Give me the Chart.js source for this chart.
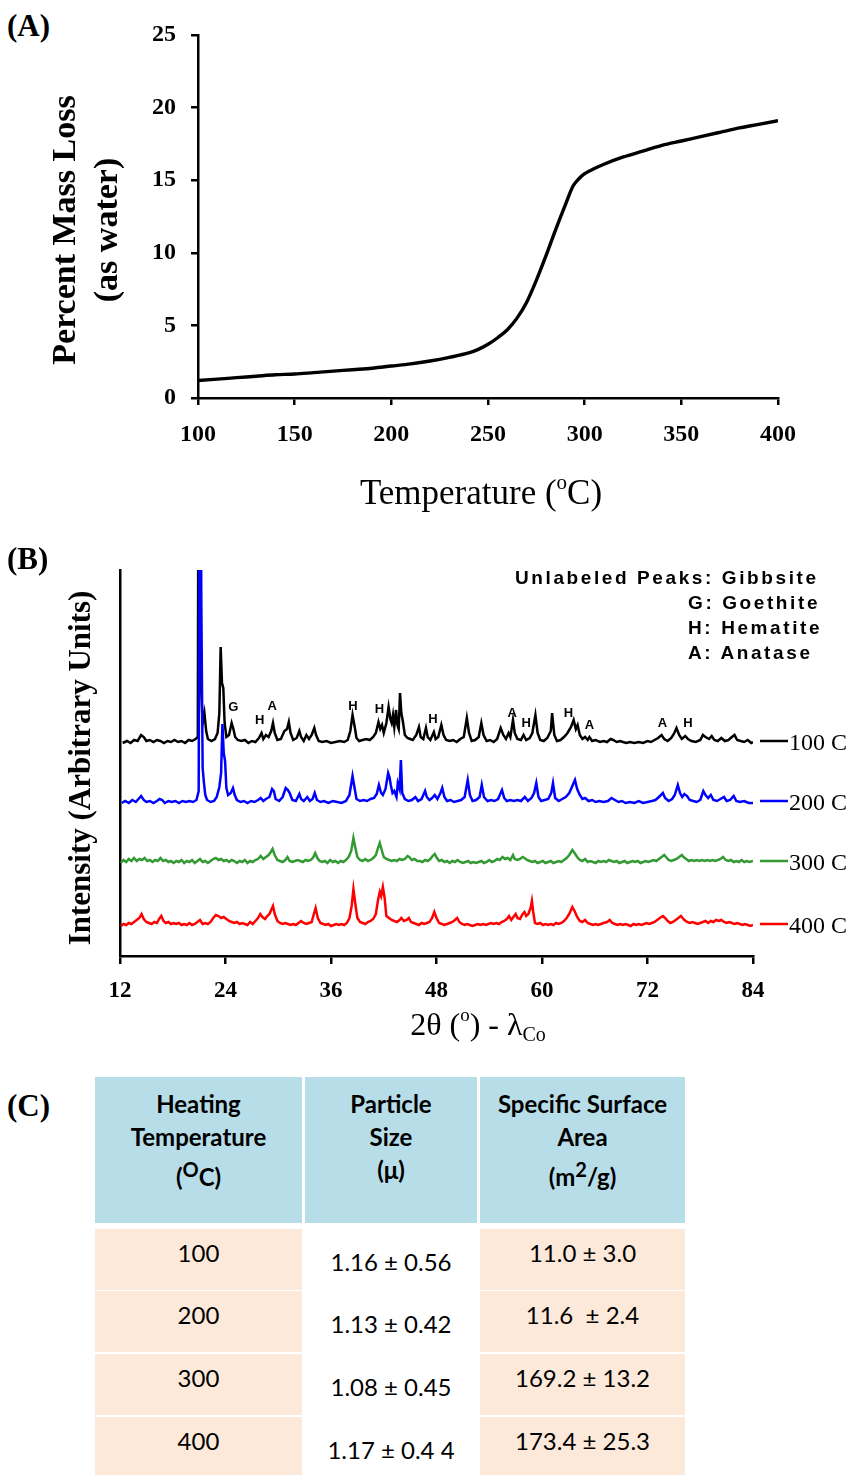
<!DOCTYPE html>
<html>
<head>
<meta charset="utf-8">
<script src="https://cdn.jsdelivr.net/npm/chart.js@4.4.0/dist/chart.umd.min.js"></script>
<style>
  body { margin: 0; background: #fff; }
  #page { position: relative; width: 851px; height: 1475px; overflow: hidden; background: #fff;
          font-family: "Liberation Serif", "Times New Roman", serif; }
  .panel { position: absolute; font-weight: bold; font-size: 31px; line-height: 31px; }
  #key { position: absolute; left: 515px; top: 565px; font-family: "Liberation Sans", Arial, sans-serif;
         font-weight: bold; font-size: 19px; line-height: 25px; letter-spacing: 2.6px; white-space: pre; }
  #key .sub { padding-left: 173px; }
  .cell { position: absolute; text-align: center; font-family: Lato, "Open Sans", sans-serif;
          color: #000; white-space: pre; box-sizing: border-box; }
  .head { background: #b7dde8; font-weight: bold; font-size: 24px; line-height: 33px; padding-top: 10px; }
  .body { font-size: 24px; line-height: 30px; }
  .peach { background: #fde9d9; }
</style>
</head>
<body>
<div id="page">
  <div class="panel" style="left:7px;top:10px">(A)</div>
  <canvas id="tga" width="851" height="530" style="position:absolute;left:0;top:0"></canvas>
  <canvas id="xrd" width="851" height="510" style="position:absolute;left:0;top:540px"></canvas>
  <div class="panel" style="left:7px;top:543px">(B)</div>
  <div id="key">Unlabeled Peaks: Gibbsite
<span class="sub">G: Goethite</span>
<span class="sub">H: Hematite</span>
<span class="sub">A: Anatase</span></div>
  <div class="panel" style="left:7px;top:1090px">(C)</div>
  <div id="tbl"></div>
</div>
<script>
const SERIF = '"Liberation Serif", "Times New Roman", serif';

// (A) thermogravimetric curve
const tgaTemp = [100, 110, 120, 130, 140, 150, 160, 170, 180, 190, 200, 210, 220, 230, 240, 245, 250, 255,
  260, 265, 270, 275, 280, 285, 290, 294, 297, 300, 305, 310, 320, 330, 340, 350, 360, 370, 380, 390, 400];
const tgaLoss = [1.2, 1.3, 1.4, 1.5, 1.6, 1.65, 1.75, 1.85, 1.95, 2.05, 2.2, 2.35, 2.55, 2.8, 3.1, 3.35, 3.7, 4.15,
  4.7, 5.5, 6.6, 8.1, 9.8, 11.6, 13.3, 14.6, 15.1, 15.45, 15.8, 16.1, 16.6, 17.0, 17.4, 17.7, 18.0, 18.3, 18.6, 18.85, 19.1];

// (B) XRD patterns: [2theta, height above trace baseline]
const xrdNames = ["100 C", "200 C", "300 C", "400 C"];
const xrdColors = ["#000000", "#0000ff", "#339933", "#ff0000"];
const xrdBaselines = [213, 153, 93, 30];

const xrd100 = [[12.3,0],[12.8,2],[13.2,0],[13.6,3],[14.0,2],[14.4,8],[14.7,6],[15.0,2],[15.4,3],[15.8,1],[16.2,3],[16.6,2],
  [17.0,0],[17.4,2],[17.8,1],[18.2,3],[18.6,1],[19.0,2],[19.4,0],[19.8,3],[20.2,2],[20.6,4],[20.85,6],[20.95,420],[21.2,60],
  [21.4,20],[21.6,30],[21.8,12],[22.0,4],[22.4,2],[22.8,4],[23.1,10],[23.3,30],[23.45,96],[23.6,60],[23.75,55],[23.9,20],
  [24.1,6],[24.4,8],[24.7,20],[24.9,14],[25.1,6],[25.4,3],[25.8,2],[26.2,3],[26.6,0],[27.0,2],[27.4,1],[27.8,5],[28.1,10],
  [28.3,4],[28.6,8],[28.9,6],[29.2,12],[29.4,20],[29.6,10],[29.9,3],[30.3,4],[30.7,12],[31.0,14],[31.2,21],[31.4,10],
  [31.7,3],[32.1,5],[32.4,12],[32.6,6],[32.9,2],[33.2,8],[33.5,4],[33.8,8],[34.1,15],[34.3,8],[34.6,2],[35.0,1],[35.5,2],
  [36.0,0],[36.5,1],[37.0,2],[37.5,1],[37.9,3],[38.2,12],[38.45,28],[38.7,16],[38.9,5],[39.2,2],[39.6,3],[40.0,4],[40.4,3],
  [40.8,6],[41.1,10],[41.4,21],[41.6,14],[41.8,18],[42.0,10],[42.3,20],[42.55,36],[42.75,24],[42.9,20],[43.05,28],[43.2,16],
  [43.4,33],[43.55,18],[43.7,14],[43.85,50],[44.0,30],[44.15,23],[44.4,8],[44.7,5],[45.0,4],[45.3,3],[45.7,8],[46.0,16],
  [46.2,6],[46.5,4],[46.8,15],[47.0,6],[47.3,3],[47.7,11],[47.9,4],[48.2,6],[48.55,18],[48.8,8],[49.1,3],[49.5,2],[49.9,3],
  [50.3,1],[50.7,4],[51.1,6],[51.45,25],[51.7,10],[52.0,2],[52.4,3],[52.8,6],[53.1,20],[53.35,8],[53.7,2],[54.1,3],[54.5,1],
  [54.9,4],[55.3,15],[55.6,8],[55.9,4],[56.2,10],[56.4,6],[56.7,23],[56.9,10],[57.2,4],[57.6,3],[57.9,8],[58.2,3],[58.6,5],
  [58.9,10],[59.25,28],[59.5,10],[59.8,3],[60.2,2],[60.6,5],[61.0,12],[61.15,30],[61.4,8],[61.7,2],[62.1,3],[62.5,6],
  [62.9,10],[63.3,16],[63.6,23],[63.85,14],[64.05,18],[64.3,8],[64.6,4],[64.9,6],[65.2,3],[65.4,6],[65.7,2],[66.1,3],
  [66.6,1],[67.0,2],[67.4,1],[67.8,4],[68.1,3],[68.5,1],[68.9,2],[69.2,1],[69.6,0],[70.0,1],[70.5,0],[71.0,1],[71.5,0],
  [72.0,2],[72.4,1],[72.8,3],[73.2,5],[73.6,8],[73.9,4],[74.3,2],[74.7,5],[75.0,9],[75.3,15],[75.6,8],[75.9,4],[76.3,7],
  [76.6,4],[77.0,2],[77.5,1],[78.0,3],[78.3,8],[78.6,6],[79.0,4],[79.3,7],[79.6,3],[80.0,2],[80.4,5],[80.8,2],[81.2,3],
  [81.6,6],[81.9,8],[82.2,3],[82.6,2],[83.0,1],[83.4,3],[83.8,0],[84.0,1]];

const xrd200 = [[12.2,0],[12.6,2],[13.0,0],[13.4,3],[13.8,1],[14.1,4],[14.4,7],[14.7,3],[15.0,1],[15.4,2],[15.8,0],[16.2,2],
  [16.5,4],[16.8,3],[17.1,0],[17.5,2],[17.9,1],[18.3,2],[18.7,0],[19.1,2],[19.5,1],[19.9,2],[20.3,1],[20.7,3],[20.95,12],
  [21.1,500],[21.25,200],[21.4,35],[21.55,20],[21.7,8],[21.9,3],[22.3,1],[22.7,2],[23.0,6],[23.3,16],[23.5,30],[23.65,79],
  [23.8,50],[23.95,42],[24.1,15],[24.3,8],[24.6,10],[24.85,15],[25.05,8],[25.3,3],[25.7,1],[26.1,2],[26.5,0],[26.9,2],
  [27.3,1],[27.7,3],[28.0,5],[28.3,2],[28.6,4],[29.0,6],[29.3,14],[29.5,12],[29.7,4],[30.1,2],[30.5,6],[30.85,15],[31.1,13],
  [31.3,10],[31.6,3],[32.0,2],[32.4,9],[32.6,4],[32.9,2],[33.3,6],[33.6,2],[33.9,4],[34.15,10],[34.4,3],[34.8,1],[35.2,2],
  [35.7,0],[36.2,2],[36.7,1],[37.2,0],[37.7,2],[38.1,8],[38.45,27],[38.7,14],[38.9,4],[39.3,2],[39.7,3],[40.1,2],[40.5,4],
  [40.9,5],[41.2,9],[41.45,18],[41.7,10],[41.9,8],[42.2,14],[42.5,30],[42.65,26],[42.8,18],[43.0,10],[43.2,12],[43.45,6],
  [43.6,20],[43.8,14],[43.95,43],[44.1,10],[44.4,4],[44.8,2],[45.2,3],[45.6,6],[45.9,2],[46.3,4],[46.7,12],[46.9,6],[47.2,3],
  [47.5,5],[47.8,8],[48.1,4],[48.45,10],[48.65,15],[48.9,6],[49.2,2],[49.6,3],[50.0,1],[50.4,2],[50.8,3],[51.2,6],[51.55,23],
  [51.8,8],[52.1,2],[52.5,3],[52.9,6],[53.15,18],[53.4,6],[53.8,2],[54.2,3],[54.6,2],[55.0,4],[55.45,13],[55.7,5],[56.0,2],
  [56.4,3],[56.8,2],[57.2,3],[57.6,2],[58.05,6],[58.4,2],[58.8,5],[59.1,10],[59.35,20],[59.6,6],[59.9,2],[60.3,3],[60.7,4],
  [61.05,10],[61.25,20],[61.5,5],[61.9,2],[62.3,4],[62.7,6],[63.1,10],[63.5,18],[63.75,23],[64.0,14],[64.3,8],[64.6,4],
  [64.9,5],[65.3,2],[65.7,3],[66.1,1],[66.5,2],[67.0,1],[67.5,2],[67.9,5],[68.3,3],[68.7,1],[69.1,2],[69.5,0],[70.0,1],
  [70.5,0],[71.0,2],[71.5,0],[72.0,1],[72.5,2],[72.9,3],[73.3,6],[73.75,10],[74.0,5],[74.4,2],[74.8,4],[75.1,8],[75.45,18],
  [75.7,10],[75.95,6],[76.2,9],[76.5,7],[76.8,3],[77.2,2],[77.6,1],[78.0,3],[78.35,12],[78.6,8],[78.9,5],[79.2,8],[79.5,3],
  [79.9,2],[80.3,4],[80.7,6],[81.0,2],[81.4,3],[81.8,7],[82.1,2],[82.5,1],[83.0,2],[83.5,0],[84.0,0]];

const xrd300 = [[12.1,0],[12.4,3],[12.7,1],[13.0,4],[13.3,2],[13.6,5],[13.9,2],[14.2,4],[14.5,3],[14.8,5],[15.1,2],[15.4,3],
  [15.7,1],[16.0,3],[16.3,2],[16.6,5],[16.9,2],[17.2,3],[17.5,1],[17.8,2],[18.1,0],[18.4,2],[18.7,1],[19.0,3],[19.3,0],
  [19.6,2],[19.9,1],[20.2,3],[20.5,0],[20.8,2],[21.1,4],[21.4,1],[21.7,2],[22.0,0],[22.3,2],[22.6,4],[22.9,5],[23.2,3],
  [23.5,4],[23.8,2],[24.1,3],[24.4,1],[24.7,3],[25.0,2],[25.3,0],[25.6,2],[25.9,1],[26.2,3],[26.5,0],[26.8,2],[27.1,1],
  [27.4,3],[27.7,4],[28.0,7],[28.3,4],[28.6,6],[28.9,8],[29.15,11],[29.35,14],[29.6,8],[29.9,3],[30.2,2],[30.5,1],[30.8,3],
  [31.05,6],[31.3,2],[31.6,1],[31.9,2],[32.2,3],[32.5,2],[32.8,1],[33.1,3],[33.4,2],[33.7,3],[34.0,6],[34.2,10],[34.45,5],
  [34.7,2],[35.0,1],[35.3,2],[35.6,0],[35.9,3],[36.2,1],[36.5,2],[36.8,0],[37.1,2],[37.4,1],[37.7,3],[38.0,6],[38.3,12],
  [38.55,25],[38.8,14],[39.0,6],[39.3,3],[39.6,2],[39.9,4],[40.2,2],[40.5,3],[40.8,5],[41.1,8],[41.35,15],[41.55,20],
  [41.8,12],[42.0,6],[42.3,4],[42.6,3],[42.9,2],[43.2,3],[43.5,2],[43.8,4],[44.1,3],[44.4,4],[44.7,7],[44.9,6],[45.2,3],
  [45.5,4],[45.8,2],[46.1,2],[46.4,1],[46.7,3],[47.0,2],[47.3,4],[47.55,7],[47.8,9],[48.05,5],[48.3,2],[48.6,3],[48.9,1],
  [49.2,2],[49.5,0],[49.8,2],[50.1,1],[50.4,3],[50.7,1],[51.0,0],[51.3,1],[51.6,2],[51.9,0],[52.2,1],[52.5,0],[52.8,1],
  [53.1,2],[53.4,0],[53.7,1],[54.0,3],[54.3,1],[54.6,2],[54.9,4],[55.2,3],[55.5,6],[55.8,4],[56.1,5],[56.4,3],[56.7,8],
  [56.9,4],[57.2,3],[57.5,4],[57.8,6],[58.0,5],[58.3,3],[58.6,2],[58.9,1],[59.2,2],[59.5,0],[59.8,1],[60.1,2],[60.4,0],
  [60.7,1],[61.0,2],[61.3,0],[61.6,1],[61.9,2],[62.2,1],[62.5,3],[62.8,5],[63.1,8],[63.45,13],[63.7,10],[64.0,6],[64.3,3],
  [64.6,2],[64.9,4],[65.2,1],[65.5,2],[65.8,1],[66.1,0],[66.4,2],[66.7,1],[67.0,2],[67.3,1],[67.6,3],[67.9,2],[68.2,1],
  [68.5,2],[68.8,0],[69.1,1],[69.4,2],[69.7,0],[70.0,1],[70.3,2],[70.6,1],[70.9,2],[71.2,0],[71.5,1],[71.8,2],[72.1,1],
  [72.4,2],[72.7,3],[73.0,2],[73.3,4],[73.6,6],[73.9,8],[74.1,6],[74.4,3],[74.7,2],[75.0,3],[75.3,4],[75.6,6],[75.9,8],
  [76.1,6],[76.4,4],[76.7,2],[77.0,3],[77.3,2],[77.6,3],[77.9,2],[78.2,3],[78.5,2],[78.8,3],[79.1,2],[79.4,3],[79.7,2],
  [80.0,3],[80.3,4],[80.6,6],[80.9,3],[81.2,2],[81.5,3],[81.8,1],[82.1,2],[82.4,1],[82.7,3],[83.0,1],[83.3,2],[83.6,1],[84.0,2]];

const xrd400 = [[12.1,0],[12.4,2],[12.7,1],[13.0,3],[13.3,2],[13.6,4],[13.9,6],[14.2,8],[14.45,12],[14.7,7],[15.0,4],
  [15.3,3],[15.6,2],[15.9,4],[16.2,3],[16.45,7],[16.7,10],[16.95,5],[17.2,3],[17.5,4],[17.8,2],[18.1,3],[18.4,2],[18.7,3],
  [19.0,1],[19.3,2],[19.6,1],[19.9,3],[20.2,1],[20.5,2],[20.8,4],[21.1,6],[21.4,2],[21.7,3],[22.0,2],[22.3,4],[22.6,8],
  [22.9,11],[23.2,10],[23.5,8],[23.8,9],[24.1,7],[24.4,5],[24.7,4],[25.0,3],[25.3,4],[25.6,2],[25.9,3],[26.2,2],[26.5,1],
  [26.8,4],[27.1,2],[27.4,5],[27.7,8],[27.95,12],[28.2,9],[28.5,7],[28.75,10],[29.0,12],[29.25,17],[29.4,20],[29.6,12],
  [29.9,5],[30.2,3],[30.5,2],[30.8,3],[31.1,2],[31.4,1],[31.7,2],[32.0,1],[32.3,3],[32.6,5],[32.9,3],[33.2,2],[33.5,3],
  [33.8,4],[34.05,12],[34.25,18],[34.5,8],[34.8,3],[35.1,2],[35.4,1],[35.7,2],[36.0,0],[36.3,1],[36.6,2],[36.9,1],[37.2,2],
  [37.5,1],[37.8,3],[38.1,8],[38.35,20],[38.55,37],[38.8,20],[39.0,8],[39.3,4],[39.6,3],[39.9,2],[40.2,4],[40.5,5],[40.8,7],
  [41.1,12],[41.35,26],[41.55,34],[41.7,30],[41.9,39],[42.1,28],[42.3,10],[42.6,8],[42.9,6],[43.2,5],[43.5,4],[43.8,6],
  [44.0,8],[44.3,5],[44.6,6],[44.85,8],[45.1,4],[45.4,3],[45.7,2],[46.0,1],[46.3,3],[46.6,2],[46.9,3],[47.2,4],[47.5,8],
  [47.75,14],[48.0,8],[48.3,3],[48.6,2],[48.9,1],[49.2,2],[49.5,3],[49.8,4],[50.1,6],[50.35,8],[50.6,4],[50.9,2],[51.2,1],
  [51.5,2],[51.8,1],[52.1,0],[52.4,1],[52.7,2],[53.0,1],[53.3,2],[53.6,1],[53.9,2],[54.2,3],[54.5,2],[54.8,3],[55.1,2],
  [55.4,4],[55.7,5],[56.0,7],[56.25,10],[56.5,6],[56.75,9],[57.0,12],[57.2,8],[57.5,7],[57.8,12],[58.0,14],[58.2,10],
  [58.45,12],[58.7,18],[58.85,25],[59.0,14],[59.2,3],[59.5,2],[59.8,3],[60.1,1],[60.4,2],[60.7,1],[61.0,2],[61.3,1],
  [61.6,3],[61.9,2],[62.2,3],[62.5,5],[62.8,8],[63.1,12],[63.45,19],[63.7,15],[64.0,9],[64.3,5],[64.6,4],[64.9,6],[65.2,3],
  [65.5,2],[65.8,1],[66.1,2],[66.4,1],[66.7,2],[67.0,3],[67.4,4],[67.7,6],[68.0,3],[68.3,2],[68.6,1],[68.9,2],[69.2,1],
  [69.5,2],[69.8,1],[70.1,0],[70.4,2],[70.7,1],[71.0,2],[71.3,1],[71.6,2],[71.9,3],[72.2,2],[72.5,3],[72.8,4],[73.1,6],
  [73.4,8],[73.75,10],[74.0,8],[74.3,5],[74.6,3],[74.9,4],[75.2,6],[75.5,8],[75.8,10],[76.0,8],[76.2,6],[76.5,4],[76.8,3],
  [77.1,4],[77.4,3],[77.7,2],[78.0,3],[78.3,4],[78.6,5],[78.9,3],[79.2,5],[79.5,4],[79.8,6],[80.1,5],[80.4,6],[80.7,4],
  [81.0,3],[81.3,4],[81.6,3],[81.9,2],[82.2,3],[82.5,2],[82.8,1],[83.1,2],[83.4,1],[83.7,0],[84.0,1]];

// peak letters on the 100 C trace
const peakLetters = ["G", "H", "A", "H", "H", "H", "A", "H", "H", "A", "A", "H"];
const peakTheta = [24.9, 27.9, 29.3, 38.5, 41.5, 47.6, 56.6, 58.2, 63.0, 65.4, 73.7, 76.6];
const peakLevel = [249, 236, 250, 250, 247, 237, 243, 233, 243, 231, 233, 233];

// (C) table
const tableHead = ["Heating\nTemperature\n(<sup>O</sup>C)", "Particle\nSize\n(\u03bc)", "Specific Surface\nArea\n(m<sup>2</sup>/g)"];
const heatTemps = ["100", "200", "300", "400"];
const particleSize = ["1.16 \u00b1 0.56", "1.13 \u00b1 0.42", "1.08 \u00b1 0.45", "1.17 \u00b1 0.4 4"];
const surfaceArea = ["11.0 \u00b1 3.0", "11.6  \u00b1 2.4", "169.2 \u00b1 13.2", "173.4 \u00b1 25.3"];

// draws a run of text pieces (for super/subscripts), centred on cx,cy
function drawRich(ctx, parts, cx, cy, rot) {
  ctx.save();
  ctx.translate(cx, cy);
  if (rot) ctx.rotate(rot);
  ctx.textBaseline = "middle";
  ctx.fillStyle = "#000";
  let total = 0;
  parts.forEach(p => { ctx.font = p.font; p.w = ctx.measureText(p.text).width; total += p.w; });
  let x = -total / 2;
  parts.forEach(p => { ctx.font = p.font; ctx.textAlign = "left"; ctx.fillText(p.text, x, p.dy || 0); x += p.w; });
  ctx.restore();
}

function axisOpts(min, max, step, extra) {
  return Object.assign({
    type: "linear", min: min, max: max,
    ticks: { stepSize: step, color: "#000", font: { family: SERIF, size: 24, weight: "bold" }, padding: 15, maxRotation: 0 },
    grid: { display: true, drawOnChartArea: false, drawTicks: true, tickLength: 7, color: "#000", lineWidth: 2.5 },
    border: { display: true, color: "#000", width: 2.5 }
  }, extra);
}

const tgaTitles = {
  id: "tgaTitles",
  afterDraw(chart) {
    const ctx = chart.ctx;
    drawRich(ctx, [{ text: "Percent Mass Loss", font: "bold 34px " + SERIF }], 66, 230, -Math.PI / 2);
    drawRich(ctx, [{ text: "(as water)", font: "bold 34px " + SERIF }], 108, 230, -Math.PI / 2);
    drawRich(ctx, [
      { text: "Temperature (", font: "35px " + SERIF },
      { text: "o", font: "21px " + SERIF, dy: -12 },
      { text: "C)", font: "35px " + SERIF }
    ], 481, 495);
  }
};

new Chart(document.getElementById("tga"), {
  type: "line",
  data: {
    datasets: [{
      data: tgaTemp.map((t, i) => ({ x: t, y: tgaLoss[i] })),
      borderColor: "#000", borderWidth: 3.4, pointRadius: 0,
      cubicInterpolationMode: "monotone", fill: false
    }]
  },
  options: {
    responsive: false, animation: false, events: [],
    layout: { padding: { top: 35, right: 73, left: 0, bottom: 0 } },
    plugins: { legend: { display: false }, tooltip: { enabled: false } },
    scales: {
      x: axisOpts(100, 400, 50, { afterFit(s) { s.height = 132; } }),
      y: axisOpts(0, 25, 5, { afterFit(s) { s.width = 198; } })
    }
  },
  plugins: [tgaTitles]
});

const xrdDecor = {
  id: "xrdDecor",
  afterDatasetsDraw(chart) {
    const ctx = chart.ctx, xs = chart.scales.x, ys = chart.scales.y, area = chart.chartArea;
    ctx.save();
    // peak letters
    ctx.font = "bold 13px 'Liberation Sans', Arial, sans-serif";
    ctx.fillStyle = "#000";
    ctx.textAlign = "center";
    ctx.textBaseline = "middle";
    peakLetters.forEach((l, i) => ctx.fillText(l, xs.getPixelForValue(peakTheta[i]), ys.getPixelForValue(peakLevel[i])));
    // trace names at the right end
    xrdNames.forEach((n, i) => {
      const y = ys.getPixelForValue(xrdBaselines[i]);
      ctx.strokeStyle = xrdColors[i];
      ctx.lineWidth = 2.5;
      ctx.beginPath();
      ctx.moveTo(area.right + 7, y - 2);
      ctx.lineTo(area.right + 35, y - 2);
      ctx.stroke();
      ctx.fillStyle = "#000";
      ctx.textAlign = "left";
      ctx.font = "24px " + SERIF;
      ctx.fillText(n, area.right + 36, y + 1);
    });
    ctx.restore();
  },
  afterDraw(chart) {
    const ctx = chart.ctx;
    drawRich(ctx, [{ text: "Intensity (Arbitrary Units)", font: "bold 31px " + SERIF }], 82, 228, -Math.PI / 2);
    drawRich(ctx, [
      { text: "2\u03b8 (", font: "32px " + SERIF },
      { text: "o", font: "19px " + SERIF, dy: -11 },
      { text: ") - \u03bb", font: "32px " + SERIF },
      { text: "Co", font: "20px " + SERIF, dy: 9 }
    ], 478, 487);
  }
};

const traces = [xrd100, xrd200, xrd300, xrd400];
new Chart(document.getElementById("xrd"), {
  type: "line",
  data: {
    datasets: traces.map((tr, i) => ({
      data: tr.map(p => ({ x: p[0], y: xrdBaselines[i] + p[1] })),
      borderColor: xrdColors[i], borderWidth: 2.5, pointRadius: 0, tension: 0, fill: false,
      order: i === 1 ? 0 : i + 1
    }))
  },
  options: {
    responsive: false, animation: false, events: [],
    layout: { padding: { top: 30, right: 98, left: 0, bottom: 0 } },
    plugins: { legend: { display: false }, tooltip: { enabled: false } },
    scales: {
      x: axisOpts(12, 84, 12, {
        ticks: { stepSize: 12, color: "#000", font: { family: SERIF, size: 23, weight: "bold" }, padding: 13, maxRotation: 0 },
        grid: { display: true, drawOnChartArea: false, drawTicks: true, tickLength: 8, color: "#000", lineWidth: 2.5 },
        afterFit(s) { s.height = 94; }
      }),
      y: {
        type: "linear", min: 0, max: 386,
        ticks: { display: false },
        grid: { display: false },
        border: { display: true, color: "#000", width: 2.5 },
        afterFit(s) { s.width = 120; }
      }
    }
  },
  plugins: [xrdDecor]
});

// table (C)
const cols = [[95, 207], [305, 172], [480, 205]];
const rowTops = [1229, 1291, 1354, 1417];
const tbl = document.getElementById("tbl");
function addCell(html, cls, left, top, w, h, padTop) {
  const d = document.createElement("div");
  d.className = "cell " + cls;
  d.style.left = left + "px"; d.style.top = top + "px";
  d.style.width = w + "px"; d.style.height = h + "px";
  if (padTop !== undefined) d.style.paddingTop = padTop + "px";
  d.innerHTML = html;
  tbl.appendChild(d);
}
tableHead.forEach((h, c) => addCell(h, "head", cols[c][0], 1077, cols[c][1], 146));
heatTemps.forEach((t, r) => {
  const h = r === 3 ? 60 : 61;
  addCell(t, "body peach", cols[0][0], rowTops[r], cols[0][1], h, 9);
  addCell(particleSize[r], "body", cols[1][0], rowTops[r], cols[1][1], h, 18);
  addCell(surfaceArea[r], "body peach", cols[2][0], rowTops[r], cols[2][1], h, 9);
});
</script>
</body>
</html>
